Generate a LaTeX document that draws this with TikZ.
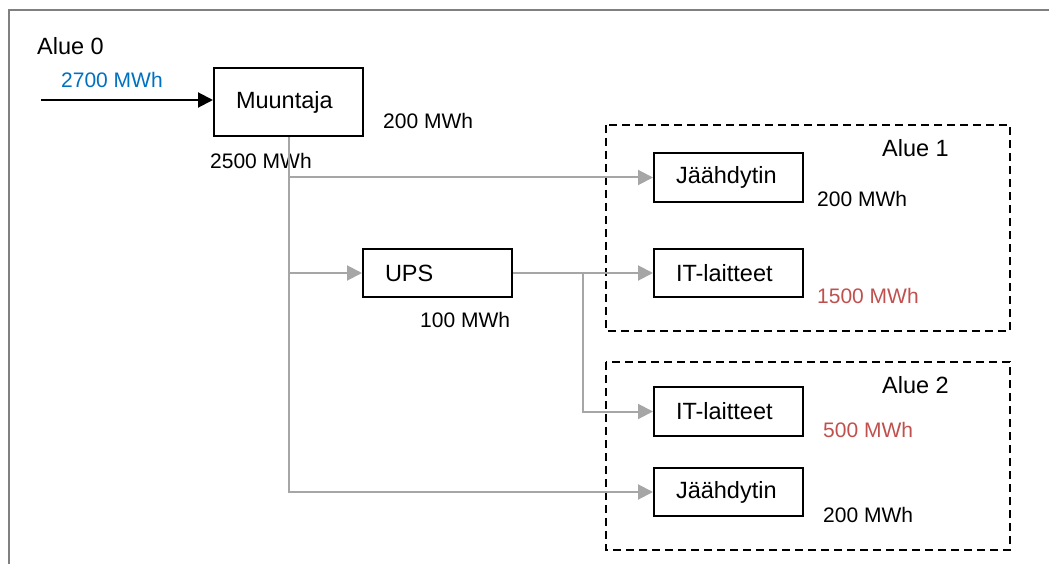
\documentclass[tikz,border=0pt]{standalone}
\usepackage{fontspec}
\setmainfont{Liberation Sans}
\usetikzlibrary{arrows.meta}
\definecolor{flowgrey}{HTML}{A6A6A6}
\definecolor{framegrey}{HTML}{808080}
\definecolor{inblue}{HTML}{0070C0}
\definecolor{loadred}{HTML}{C0504D}
\tikzset{
  box/.style={draw=black, line width=2pt, rectangle, minimum width=149pt,
    text width=105pt, inner xsep=22pt, inner ysep=0pt, align=left,
    font=\fontsize{23.5}{28}\selectfont},
  zonebox/.style={draw=black, line width=2pt, dash pattern=on 8pt off 5pt},
  zonetitle/.style={anchor=base west, inner sep=0pt, font=\fontsize{23.5}{28}\selectfont},
  energy/.style={anchor=base west, inner sep=0pt, font=\fontsize{21}{25}\selectfont},
  flow/.style={draw=flowgrey, line width=2pt, -{Triangle[length=15pt,width=15pt]}},
  feed/.style={draw=black, line width=2pt, -{Triangle[length=15pt,width=15pt]}},
}
\begin{document}
\begin{tikzpicture}[x=1pt,y=-1pt]
\useasboundingbox (0,0) rectangle (1049,564);

% outer frame (top and left edges)
\draw[framegrey, line width=2pt] (1049,10) -- (9,10) -- (9,564);

% zones
\draw[zonebox] (606,125) rectangle (1010,331);
\draw[zonebox] (606,362) rectangle (1010,550);

% equipment
\node[box, minimum height=68pt] (muun) at (288.5,102) {Muuntaja};
\node[box, minimum height=49pt] (jaa1) at (728.5,177.5) {Jäähdytin};
\node[box, minimum height=48pt] (ups)  at (437.5,273) {UPS};
\node[box, minimum height=48pt] (it1)  at (728.5,273) {IT-laitteet};
\node[box, minimum height=49pt] (it2)  at (728.5,411.5) {IT-laitteet};
\node[box, minimum height=48pt] (jaa2) at (728.5,492) {Jäähdytin};

% titles and energy figures
\node[zonetitle] (t0) at (37,55) {Alue 0};
\node[zonetitle] (t1) at (882,157) {Alue 1};
\node[zonetitle] (t2) at (882,393) {Alue 2};
\node[energy, text=inblue] (e0) at (61,88) {2700 MWh};
\node[energy] (e1) at (383,129) {200 MWh};
\node[energy] (e2) at (210,169) {2500 MWh};
\node[energy] (e3) at (817,207) {200 MWh};
\node[energy, text=loadred] (e4) at (817,303) {1500 MWh};
\node[energy] (e5) at (420,327) {100 MWh};
\node[energy, text=loadred] (e6) at (823,437) {500 MWh};
\node[energy] (e7) at (823,522) {200 MWh};

% connectors
\coordinate (in0) at (41,100);
\coordinate (split) at (583,273);
\draw[feed] (in0) -- (in0 -| muun.west);
\draw[flow] (muun.south) |- (jaa2.west);
\draw[flow] (muun.south |- jaa1.west) -- (jaa1.west);
\draw[flow] (muun.south |- ups.west) -- (ups.west);
\draw[flow] (ups.east) -- (it1.west);
\draw[flow] (split) |- (it2.west);
\end{tikzpicture}
\end{document}
